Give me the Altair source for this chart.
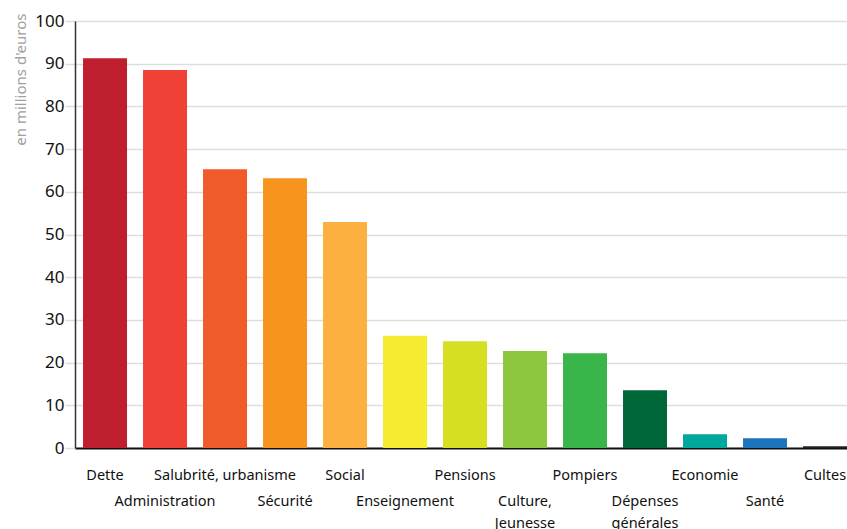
import json
import altair as alt
import pandas as pd

categories = ["Dette", "Administration", "Salubrité, urbanisme", "Sécurité", "Social",
              "Enseignement", "Pensions", "Culture,\nJeunesse", "Pompiers",
              "Dépenses\ngénérales", "Economie", "Santé", "Cultes"]
values = [91.3, 88.5, 65.3, 63.2, 52.9, 26.3, 25.0, 22.7, 22.2, 13.5, 3.2, 2.3, 0.4]
colors = ["#be1e2d", "#ef4136", "#f15a29", "#f7941d", "#fbb040", "#f5eb30", "#d7df23",
          "#8dc63f", "#39b54a", "#006838", "#00a79d", "#1c75bc", "#231f20"]
y_ticks = [0, 10, 20, 30, 40, 50, 60, 70, 80, 90, 100]

df = pd.DataFrame({"cat": categories, "val": values})
lower_row = categories[1::2]
test_expr = "indexof(" + json.dumps(lower_row, ensure_ascii=False) + ", datum.value) >= 0"

FONT = "Noto Sans"

chart = alt.Chart(df).mark_bar().encode(
    x=alt.X("cat:N", sort=categories,
            scale=alt.Scale(paddingInner=0.267, paddingOuter=0.067, align=1),
            axis=alt.Axis(title=None, labelAngle=0, tickSize=0, domainColor="#111",
                          domainWidth=2, labelFont=FONT, labelFontSize=14.5,
                          labelColor="#111", labelBaseline="top", labelLineHeight=22,
                          labelExpr="split(datum.label, '\\n')",
                          labelPadding={"condition": {"test": test_expr, "value": 46},
                                        "value": 20},
                          grid=False, labelOverlap=False)),
    y=alt.Y("val:Q", scale=alt.Scale(domain=[0, 100], nice=False),
            axis=alt.Axis(values=y_ticks, title="en millions d'euros", grid=True,
                          gridColor="#dddddd", gridWidth=1.5, tickColor="#dddddd",
                          tickSize=10, tickWidth=1.5, domainColor="#333", domainWidth=1.5,
                          labelFont=FONT, labelFontSize=17, labelColor="#111",
                          labelPadding=1,
                          titleFont=FONT, titleFontSize=15, titleFontWeight="normal",
                          titleColor="#a0a0a0", titleAngle=-90, titleAlign="right",
                          titleBaseline="middle", titleX=-55, titleY=-8)),
    color=alt.Color("cat:N", sort=categories,
                    scale=alt.Scale(domain=categories, range=colors), legend=None),
).properties(
    width=772, height=427,
    autosize=alt.AutoSizeParams(type="none"),
    padding={"left": 75, "top": 21, "right": 0, "bottom": 81},
).configure_view(stroke=None)

chart.save("out.html", embed_options={"renderer": "svg", "actions": False})
